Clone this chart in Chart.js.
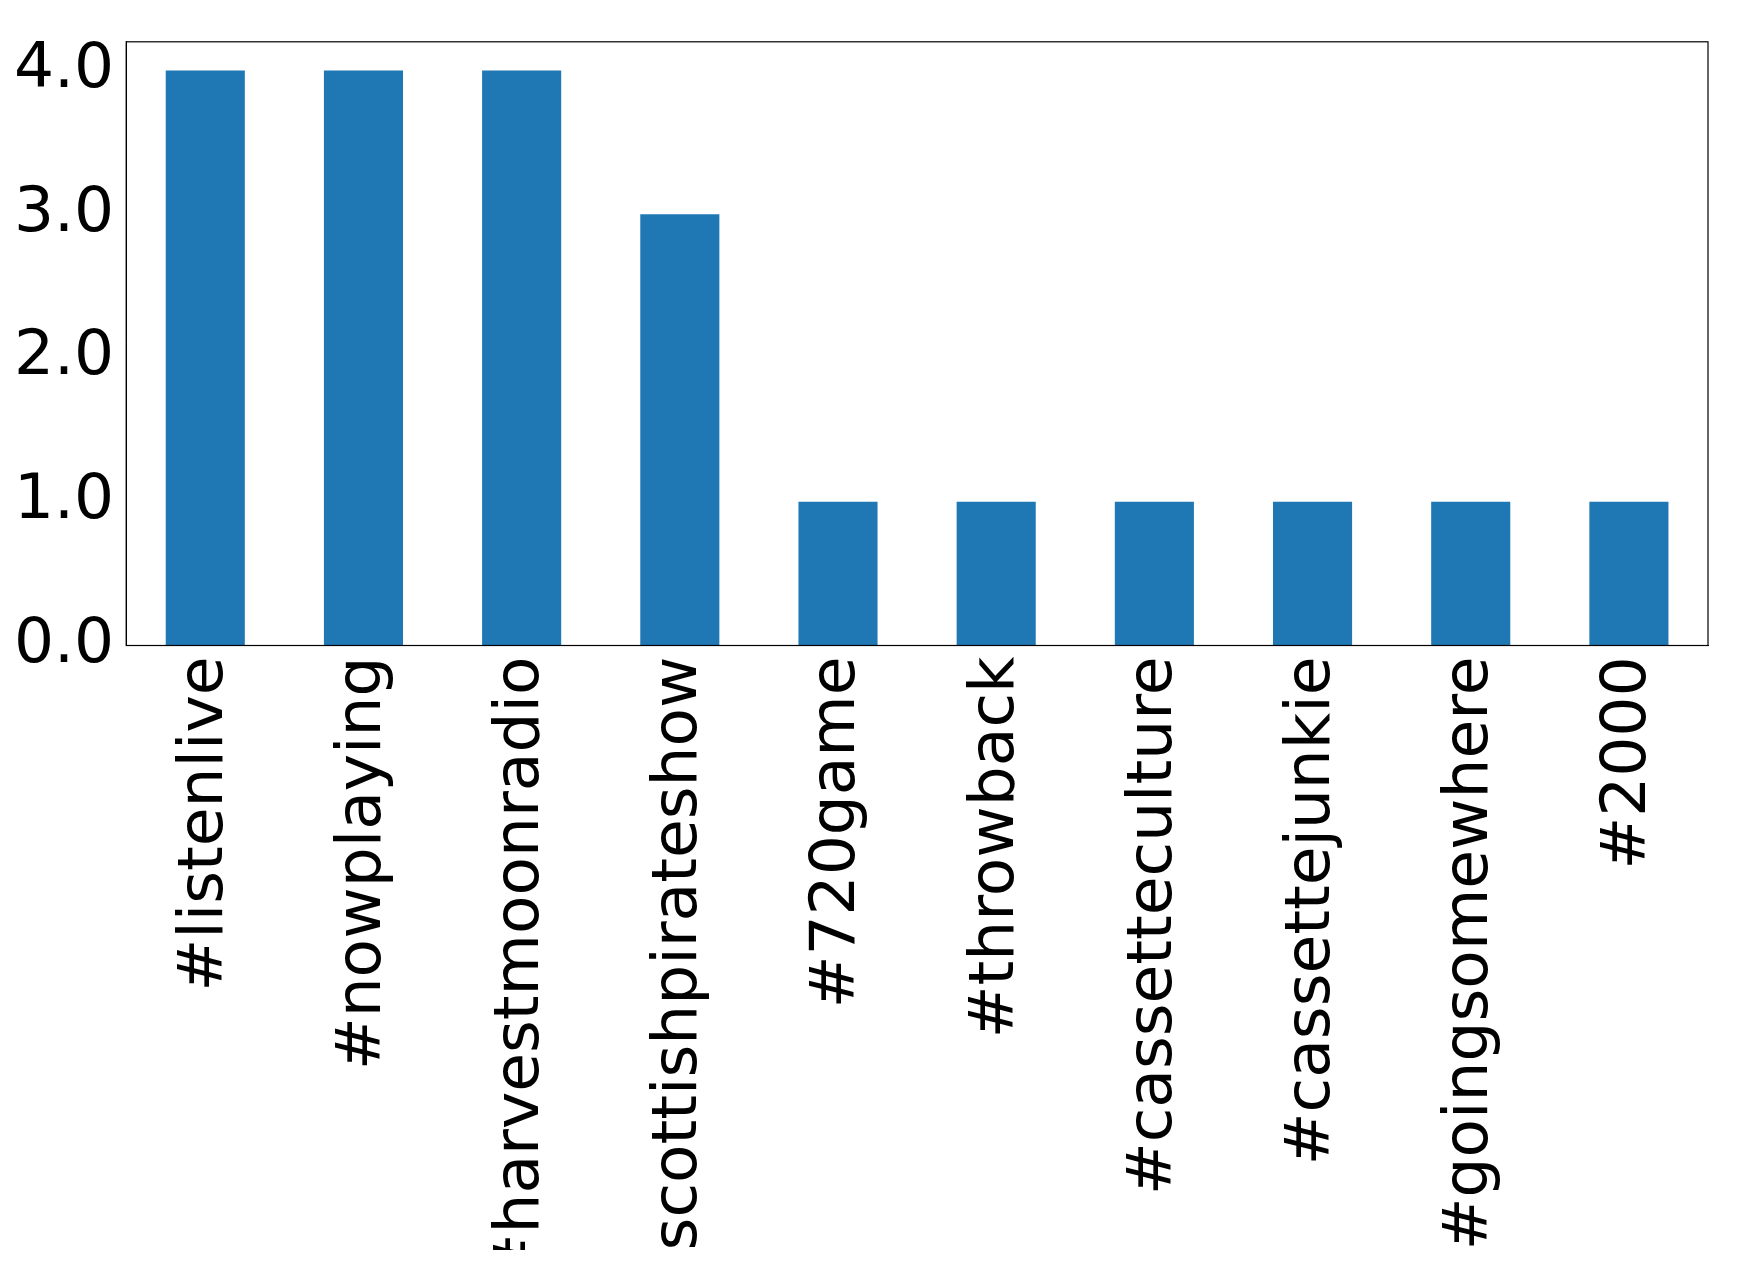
<!DOCTYPE html>
<html><head><meta charset="utf-8">
<script src="https://cdn.jsdelivr.net/npm/chart.js@4"></script>
<style>body{margin:0;background:#fff}</style></head>
<body><canvas id="c" width="1739" height="1270"></canvas>
<script>
const categories = ["#listenlive","#nowplaying","#harvestmoonradio","#scottishpirateshow","#720game","#throwback","#cassetteculture","#cassettejunkie","#goingsomewhere","#2000"];
const values = [4,4,4,3,1,1,1,1,1,1];
const yTicks = [0,0.5,1,1.5,2,2.5,3,3.5,4];
const frame = {id:'frame',afterDraw(c){const a=c.chartArea,x=c.ctx;x.save();x.strokeStyle='#000';x.lineWidth=1.2;x.strokeRect(a.left,a.top,a.right-a.left,a.bottom-a.top);x.restore();}};
new Chart(document.getElementById('c'),{
type:'bar',
data:{labels:categories,datasets:[{data:values,backgroundColor:'#1f77b4',barPercentage:0.5,categoryPercentage:1}]},
options:{responsive:false,animation:false,
layout:{padding:{top:41,right:31,left:10,bottom:20}},
plugins:{legend:{display:false},tooltip:{enabled:false}},
scales:{
x:{grid:{display:false,drawTicks:true,tickLength:8},border:{color:'#000'},
ticks:{color:'#000',font:{family:'DejaVu Sans',size:63},maxRotation:90,minRotation:90,autoSkip:false}},
y:{min:0,max:4.2,grid:{display:false,tickLength:8},border:{color:'#000'},
afterBuildTicks(s){s.ticks=yTicks.map(v=>({value:v}));},
ticks:{color:'#000',font:{family:'DejaVu Sans',size:63},padding:4,callback:v=>v.toFixed(1)}}
}},
plugins:[frame]});
</script></body></html>
